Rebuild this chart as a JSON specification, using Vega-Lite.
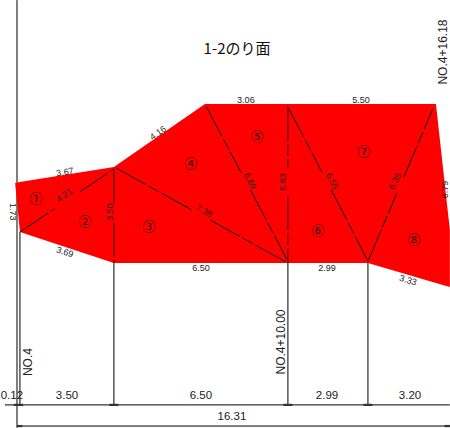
{
"$schema":"https://vega.github.io/schema/vega-lite/v6.json",
"width":450,"height":428,"padding":0,
"autosize":"none",
"background":"white",
"config":{"view":{"stroke":null},"text":{"font":"Liberation Sans","fontSize":9,"color":"#222222"}},
"datasets":{
"outline":[
{"x":-0.07,"top":2.99,"bottom":2.99},
{"x":0.11,"top":3.03,"bottom":1.16},
{"x":3.62,"top":3.59,"bottom":0},
{"x":7.02,"top":5.94,"bottom":0},
{"x":13.11,"top":5.94,"bottom":0},
{"x":15.65,"top":5.94,"bottom":-0.75},
{"x":16.17,"top":1.23,"bottom":-0.90}],
"extensions":[
{"x":0,"y":9.82,"x2":0,"y2":-6.16},
{"x":0.11,"y":1.16,"x2":0.11,"y2":-5.30},
{"x":3.62,"y":0,"x2":3.62,"y2":-5.30},
{"x":10.12,"y":0,"x2":10.12,"y2":-5.30},
{"x":13.11,"y":0,"x2":13.11,"y2":-5.30},
{"x":-0.45,"y":-5.30,"x2":16.17,"y2":-5.30},
{"x":0,"y":-6.09,"x2":16.17,"y2":-6.09}],
"arrows":[
{"x":-0.12,"y":-5.30,"x2":0.23,"y2":-5.30},
{"x":3.45,"y":-5.30,"x2":3.79,"y2":-5.30},
{"x":9.95,"y":-5.30,"x2":10.29,"y2":-5.30},
{"x":12.94,"y":-5.30,"x2":13.28,"y2":-5.30},
{"x":0,"y":-6.09,"x2":0.2,"y2":-6.09},
{"x":15.97,"y":-6.09,"x2":16.17,"y2":-6.09}],
"breaks":[
{"x":0.11,"y":1.16,"x2":1.42,"y2":2.04},
{"x":2.35,"y":2.66,"x2":3.62,"y2":3.51},
{"x":3.70,"y":3.55,"x2":6.57,"y2":1.96},
{"x":7.21,"y":1.61,"x2":10.12,"y2":0},
{"x":7.06,"y":5.86,"x2":8.38,"y2":3.36},
{"x":8.72,"y":2.73,"x2":10.12,"y2":0.07},
{"x":10.12,"y":5.83,"x2":11.39,"y2":3.40},
{"x":11.74,"y":2.73,"x2":13.11,"y2":0.07},
{"x":13.11,"y":0.07,"x2":14.19,"y2":2.61},
{"x":14.45,"y":3.21,"x2":15.54,"y2":5.78}],
"verticals":[
{"x":3.62,"y":3.51,"x2":3.62,"y2":2.20},
{"x":3.62,"y":1.50,"x2":3.62,"y2":0},
{"x":10.12,"y":5.83,"x2":10.12,"y2":3.55},
{"x":10.12,"y":2.50,"x2":10.12,"y2":0}]
},
"encoding":{
"x":{"field":"x","type":"quantitative","scale":{"domain":[-0.635,16.175],"nice":false,"zero":false},"axis":null},
"y":{"field":"y","type":"quantitative","scale":{"domain":[-6.163,9.824],"nice":false,"zero":false},"axis":null}
},
"layer":[
{"data":{"name":"extensions"},"mark":{"type":"rule","color":"#000000","strokeWidth":1},"encoding":{"x2":{"field":"x2"},"y2":{"field":"y2"}}},
{"data":{"name":"arrows"},"mark":{"type":"rule","color":"#333333","strokeWidth":2.2},"encoding":{"x2":{"field":"x2"},"y2":{"field":"y2"}}},
{"data":{"name":"outline"},"mark":{"type":"area","color":"#ff0000","opacity":1},"encoding":{"y":{"field":"top","type":"quantitative"},"y2":{"field":"bottom"}}},
{"data":{"name":"breaks"},"mark":{"type":"rule","color":"#111111","strokeWidth":1,"strokeDash":[34,3,12,3]},"encoding":{"x2":{"field":"x2"},"y2":{"field":"y2"}}},
{"data":{"name":"verticals"},"mark":{"type":"rule","color":"#600000","strokeWidth":1.3,"strokeDash":[34,3,12,3]},"encoding":{"x2":{"field":"x2"},"y2":{"field":"y2"}}},
{"data":{"values":[
{"x":8.22,"y":7.99,"label":"1-2のり面"}]},"mark":{"type":"text","font":"Noto Sans CJK JP","fontSize":15,"color":"#111111"},"encoding":{"text":{"field":"label"}}},
{"data":{"values":[
{"x":0.71,"y":2.39,"label":"①"},{"x":2.54,"y":1.53,"label":"②"},{"x":4.93,"y":1.34,"label":"③"},{"x":6.50,"y":3.70,"label":"④"},
{"x":8.97,"y":4.71,"label":"⑤"},{"x":11.24,"y":1.20,"label":"⑥"},{"x":12.96,"y":4.15,"label":"⑦"},{"x":14.83,"y":0.86,"label":"⑧"}]},
"mark":{"type":"text","font":"Noto Sans CJK JP","fontSize":13,"color":"#111111"},"encoding":{"text":{"field":"label"}}},
{"data":{"values":[
{"x":8.55,"y":6.09,"label":"3.06"},{"x":12.85,"y":6.09,"label":"5.50"},{"x":6.87,"y":-0.19,"label":"6.50"},{"x":11.58,"y":-0.19,"label":"2.99"}]},
"mark":{"type":"text","fontSize":9},"encoding":{"text":{"field":"label"}}},
{"data":{"values":[
{"x":-0.19,"y":-4.97,"label":"0.12"},{"x":1.87,"y":-4.97,"label":"3.50"},{"x":6.87,"y":-4.97,"label":"6.50"},{"x":11.58,"y":-4.97,"label":"2.99"},{"x":14.68,"y":-4.97,"label":"3.20"},{"x":8.03,"y":-5.75,"label":"16.31"}]},
"mark":{"type":"text","fontSize":11.5},"encoding":{"text":{"field":"label"}}},
{"data":{"values":[
{"x":3.47,"y":1.91,"label":"3.50"},{"x":9.94,"y":3.03,"label":"5.83"}]},
"mark":{"type":"text","angle":270,"fontSize":9},"encoding":{"text":{"field":"label"}}},
{"data":{"values":[
{"x":0.41,"y":-3.70,"label":"NO.4"},{"x":9.86,"y":-2.95,"label":"NO.4+10.00"},{"x":15.93,"y":7.88,"label":"NO.4+16.18"}]},
"mark":{"type":"text","angle":270,"fontSize":12},"encoding":{"text":{"field":"label"}}},
{"data":{"values":[{"x":-0.15,"y":1.91,"label":"1.73"}]},"mark":{"type":"text","angle":90,"fontSize":9},"encoding":{"text":{"field":"label"}}},
{"data":{"values":[{"x":1.79,"y":3.40,"label":"3.67"}]},"mark":{"type":"text","angle":351,"fontSize":9},"encoding":{"text":{"field":"label"}}},
{"data":{"values":[{"x":1.76,"y":2.54,"label":"4.21"},{"x":5.27,"y":4.86,"label":"4.16"}]},"mark":{"type":"text","angle":325,"fontSize":9},"encoding":{"text":{"field":"label"}}},
{"data":{"values":[{"x":1.79,"y":0.41,"label":"3.69"},{"x":14.61,"y":-0.64,"label":"3.33"}]},"mark":{"type":"text","angle":17,"fontSize":9},"encoding":{"text":{"field":"label"}}},
{"data":{"values":[{"x":6.99,"y":1.94,"label":"7.38"}]},"mark":{"type":"text","angle":27,"fontSize":9},"encoding":{"text":{"field":"label"}}},
{"data":{"values":[{"x":8.70,"y":3.06,"label":"6.69"},{"x":11.77,"y":3.06,"label":"6.55"}]},"mark":{"type":"text","angle":63,"fontSize":9},"encoding":{"text":{"field":"label"}}},
{"data":{"values":[{"x":14.12,"y":3.06,"label":"6.35"}]},"mark":{"type":"text","angle":297,"fontSize":9},"encoding":{"text":{"field":"label"}}},
{"data":{"values":[{"x":15.98,"y":2.75,"label":"6.79"}]},"mark":{"type":"text","angle":270,"fontSize":9},"encoding":{"text":{"field":"label"}}}
]
}
